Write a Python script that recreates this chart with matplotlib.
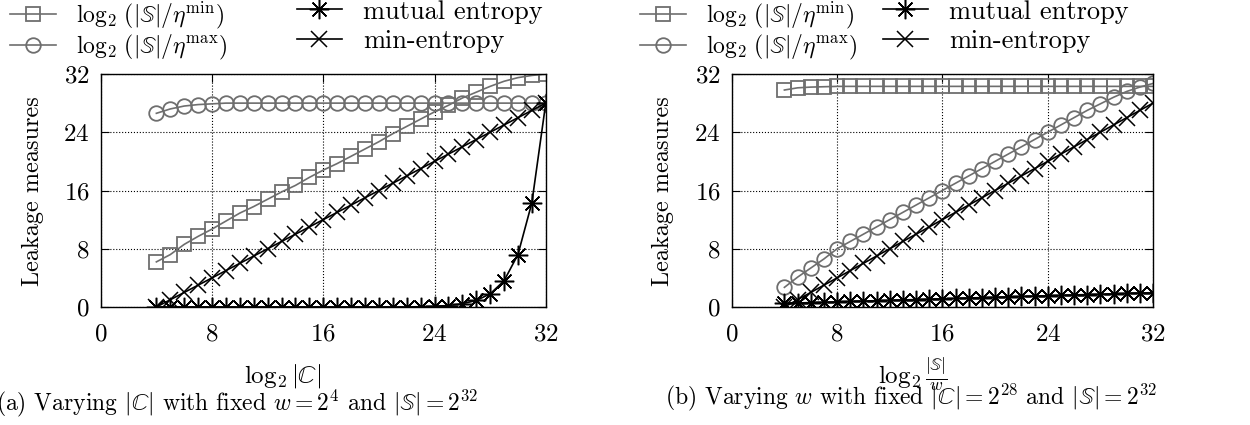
import matplotlib
matplotlib.use("Agg")
from matplotlib import pyplot

pyplot.rcParams["font.family"] = "cmr10"
pyplot.rcParams["mathtext.fontset"] = "cm"
pyplot.rcParams["axes.formatter.use_mathtext"] = True

# (a) varying |C|, w = 2^4, |S| = 2^32
x_a = [4, 5, 6, 7, 8, 9, 10, 11, 12, 13, 14, 15, 16, 17, 18, 19, 20,
       21, 22, 23, 24, 25, 26, 27, 28, 29, 30, 31, 32]
eta_min_a = [6.2, 7.2, 8.6, 9.7, 10.7, 11.8, 12.9, 13.8, 14.8, 15.8, 16.7,
             17.8, 18.8, 19.7, 20.7, 21.7, 22.7, 23.8, 24.8, 25.8, 26.8,
             27.7, 28.7, 29.5, 30.3, 31.0, 31.5, 31.8, 32.0]
eta_max_a = [26.6, 27.2, 27.6, 27.8, 27.9, 28.0, 28.0, 28.0, 28.0, 28.0,
             28.0, 28.0, 28.0, 28.0, 28.0, 28.0, 28.0, 28.0, 28.0, 28.0,
             28.0, 28.0, 28.0, 28.0, 28.0, 28.0, 28.0, 28.0, 28.0]
mutual_a = [0, 0, 0, 0, 0, 0, 0, 0, 0, 0, 0, 0, 0, 0, 0, 0, 0, 0, 0,
            0.05, 0.1, 0.2, 0.45, 0.9, 1.8, 3.6, 7.2, 14.3, 28.0]
min_entropy_a = [0, 1, 2, 3, 4, 5, 6, 7, 8, 9, 10, 11, 12, 13, 14, 15, 16,
                 17, 18, 19, 20, 21, 22, 23, 24, 25, 26, 27, 28]

# (b) varying w, |C| = 2^28, |S| = 2^32
x_b = [4, 5, 6, 7, 8, 9, 10, 11, 12, 13, 14, 15, 16, 17, 18, 19, 20,
       21, 22, 23, 24, 25, 26, 27, 28, 29, 30, 31, 32]
eta_min_b = [29.8, 30.1, 30.2, 30.25, 30.3, 30.3, 30.3, 30.3, 30.3, 30.3,
             30.3, 30.3, 30.3, 30.3, 30.3, 30.3, 30.3, 30.3, 30.3, 30.3,
             30.3, 30.3, 30.3, 30.3, 30.3, 30.3, 30.3, 30.3, 30.3]
eta_max_b = [2.7, 4.1, 5.35, 6.6, 8.0, 9.0, 10.0, 11.0, 12.0, 13.0, 14.0,
             15.0, 16.0, 17.0, 18.0, 19.0, 20.0, 21.0, 22.0, 23.0, 24.0,
             25.0, 26.0, 27.0, 27.9, 28.8, 29.6, 30.2, 30.7]
mutual_b = [0.50, 0.55, 0.61, 0.66, 0.71, 0.76, 0.82, 0.87, 0.92, 0.97,
            1.03, 1.08, 1.13, 1.18, 1.24, 1.29, 1.34, 1.39, 1.45, 1.50,
            1.55, 1.60, 1.66, 1.71, 1.76, 1.81, 1.87, 1.92, 1.97]
min_entropy_b = [0, 1, 2, 3, 4, 5, 6, 7, 8, 9, 10, 11, 12, 13, 14, 15, 16,
                 17, 18, 19, 20, 21, 22, 23, 24, 25, 26, 27, 28]

labels = [
    r"$\log_2\,(|\mathbb{S}|/\eta^{\min})$",
    r"$\log_2\,(|\mathbb{S}|/\eta^{\max})$",
    "mutual entropy",
    "min-entropy",
]

GRAY = "#6e6e6e"
TICK_FS = 18
LEG_FS = 19
MATH_LEG_FS = 17
LABEL_FS = 17.5
CAP_FS = 17


def draw_panel(ax, x, eta_min, eta_max, mutual, min_entropy):
    handles = []
    handles += ax.plot(x, eta_min, color=GRAY, lw=1.2, marker="s", ms=10.5,
                       mfc="none", mec=GRAY, mew=1.3)
    handles += ax.plot(x, eta_max, color=GRAY, lw=1.2, marker="o", ms=10.5,
                       mfc="none", mec=GRAY, mew=1.3)
    handles += ax.plot(x, mutual, color="black", lw=1.2, marker=(8, 2, 0),
                       ms=14, mec="black", mew=1.1)
    handles += ax.plot(x, min_entropy, color="black", lw=1.2, marker="x",
                       ms=11, mec="black", mew=1.1)
    ax.set_xlim(0, 32)
    ax.set_ylim(0, 32)
    ax.set_xticks([0, 8, 16, 24, 32])
    ax.set_yticks([0, 8, 16, 24, 32])
    ax.grid(True, linestyle=":", color="black", lw=0.8)
    ax.tick_params(direction="in", top=True, right=True, length=6,
                   labelsize=TICK_FS)
    ax.tick_params(axis="x", pad=12)
    ax.tick_params(axis="y", pad=8)
    for s in ax.spines.values():
        s.set_linewidth(1.0)
        s.set_zorder(5)
    return handles


fig = pyplot.figure(figsize=(12.5, 4.25), dpi=100)

ax_a = fig.add_axes([0.0806, 0.2776, 0.356, 0.5483])
ax_b = fig.add_axes([0.5854, 0.2776, 0.337, 0.5483])

h_a = draw_panel(ax_a, x_a, eta_min_a, eta_max_a, mutual_a, min_entropy_a)
h_b = draw_panel(ax_b, x_b, eta_min_b, eta_max_b, mutual_b, min_entropy_b)

# each legend column separately, so they sit where the reference has them
for handles, x_math, x_text in [(h_a, 0.008, 0.2376), (h_b, 0.512, 0.7064)]:
    fig.legend(handles[:2], labels[:2], loc="upper left",
               bbox_to_anchor=(x_math, 1.0), frameon=False,
               fontsize=MATH_LEG_FS, handlelength=1.95, labelspacing=0.05,
               handletextpad=0.85, borderaxespad=0.0, borderpad=0.0)
    fig.legend(handles[2:], labels[2:], loc="upper left",
               bbox_to_anchor=(x_text, 1.0), frameon=False,
               fontsize=LEG_FS, handlelength=1.7, labelspacing=0.2,
               handletextpad=0.8, borderaxespad=0.0, borderpad=0.0)

fig.text(0.026, 0.55, "Leakage measures", rotation=90, fontsize=LABEL_FS,
         ha="center", va="center")
fig.text(0.530, 0.55, "Leakage measures", rotation=90, fontsize=LABEL_FS,
         ha="center", va="center")

fig.text(0.2265, 0.115, r"$\log_2|\mathbb{C}|$", fontsize=TICK_FS,
         ha="center", va="center")
fig.text(0.730, 0.12, r"$\log_2\frac{|\mathbb{S}|}{w}$", fontsize=TICK_FS,
         ha="center", va="center")

fig.text(0.19, 0.050,
         r"(a) Varying $|\mathbb{C}|$ with fixed $w = 2^4$ and $|\mathbb{S}| = 2^{32}$",
         fontsize=CAP_FS, ha="center", va="center")
fig.text(0.729, 0.064,
         r"(b) Varying $w$ with fixed $|\mathbb{C}| = 2^{28}$ and $|\mathbb{S}| = 2^{32}$",
         fontsize=CAP_FS, ha="center", va="center")

fig.savefig("out.png", dpi=100)
